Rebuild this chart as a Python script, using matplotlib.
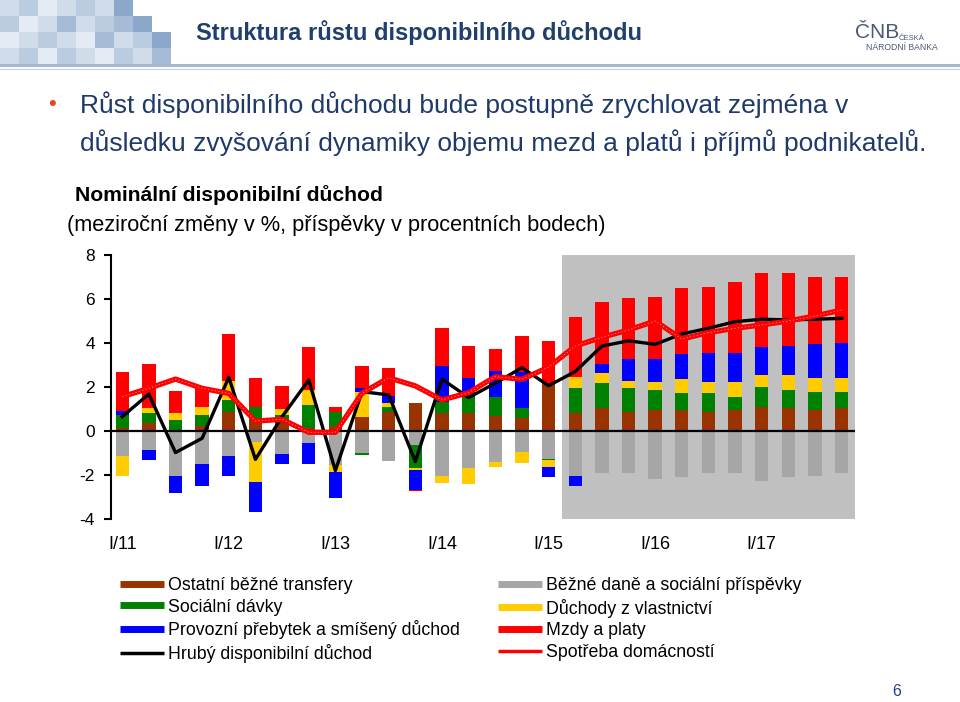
import numpy as np
import matplotlib
matplotlib.use("Agg")
import matplotlib.pyplot as plt
from matplotlib.lines import Line2D
from matplotlib.patches import Rectangle
from matplotlib import font_manager

plt.rcParams['font.family'] = ['Liberation Sans', 'DejaVu Sans']
plt.rcParams['axes.unicode_minus'] = False

installed = {f.name for f in font_manager.fontManager.ttflist}
NARROW = 'Liberation Sans Narrow' if 'Liberation Sans Narrow' in installed else 'Liberation Sans'

# quarterly data I/11 .. IV/17 (contributions in p.p.)
tick_labels = ['I/11', 'I/12', 'I/13', 'I/14', 'I/15', 'I/16', 'I/17']
ostatni = [0.12, 0.35, 0.05, 0.24, 0.88, 0.53, 0.42, 0.15, 0.24, 0.65, 0.88, 1.26, 0.80, 0.80,
           0.70, 0.58, 2.17, 0.80, 1.03, 0.88, 0.95, 0.95, 0.88, 0.95, 1.10, 1.03, 0.95, 1.03]
dane = [-1.12, -0.86, -2.05, -1.50, -1.12, -0.48, -1.05, -0.56, -1.55, -1.02, -1.35, -0.64, -2.05, -1.70,
        -1.39, -0.94, -1.27, -2.05, -1.92, -1.92, -2.18, -2.08, -1.92, -1.92, -2.26, -2.08, -2.03, -1.92]
socialni = [0.63, 0.45, 0.45, 0.47, 0.53, 0.58, 0.30, 1.03, 0.64, -0.08, 0.23, -1.06, 0.53, 0.76,
            0.86, 0.45, -0.06, 1.14, 1.14, 1.06, 0.91, 0.76, 0.83, 0.61, 0.91, 0.83, 0.83, 0.76]
vlastnictvi = [-0.92, 0.23, 0.33, 0.39, 0.88, -1.85, 0.30, 0.68, -0.30, 1.14, 0.15, -0.08, -0.30, -0.71,
               -0.26, -0.53, -0.29, 0.53, 0.45, 0.35, 0.38, 0.64, 0.53, 0.68, 0.53, 0.68, 0.61, 0.61]
provozni = [0.15, -0.48, -0.76, -1.00, -0.92, -1.33, -0.45, -0.94, -1.18, 0.15, 0.33, -0.88, 1.62, 0.86,
            1.17, 1.67, -0.48, -0.45, 0.41, 0.97, 1.02, 1.14, 1.32, 1.32, 1.26, 1.32, 1.56, 1.62]
mzdy = [1.77, 2.00, 1.00, 0.86, 2.12, 1.32, 1.02, 1.94, 0.23, 1.02, 1.29, -0.06, 1.71, 1.44,
        0.98, 1.62, 1.92, 2.70, 2.85, 2.77, 2.85, 3.00, 3.00, 3.23, 3.36, 3.30, 3.06, 3.00]
hruby = [0.65, 1.68, -0.98, -0.33, 2.44, -1.29, 0.65, 2.32, -1.80, 1.79, 1.64, -1.39, 2.36, 1.52,
         2.17, 2.88, 2.06, 2.70, 3.86, 4.10, 3.94, 4.41, 4.67, 4.97, 5.08, 5.05, 5.08, 5.12]
spotreba = [1.56, 1.94, 2.36, 1.94, 1.71, 0.45, 0.53, -0.06, -0.06, 1.72, 2.42, 2.05, 1.41, 1.74,
            2.47, 2.35, 2.90, 3.86, 4.26, 4.59, 5.00, 4.18, 4.47, 4.67, 4.82, 5.00, 5.23, 5.50]
forecast_start = 17

series = [
    ('Ostatní běžné transfery', ostatni, '#993300'),
    ('Běžné daně a sociální příspěvky', dane, '#A6A6A6'),
    ('Sociální dávky', socialni, '#008000'),
    ('Důchody z vlastnictví', vlastnictvi, '#FFCC00'),
    ('Provozní přebytek a smíšený důchod', provozni, '#0000FF'),
    ('Mzdy a platy', mzdy, '#FF0000'),
]

fig = plt.figure(figsize=(9.6, 7.02), dpi=100)

# slide decoration, drawn in pixel coordinates
deco = fig.add_axes([0, 0, 1, 1], zorder=0)
deco.set_xlim(0, 960)
deco.set_ylim(702, 0)
deco.axis('off')

shades = ['#FFFFFF', '#E4EBF4', '#D0DCEA', '#BCCCE0', '#A5BBD6', '#8BA7CA']
mosaic = [
    [2, 3, 1, 2, 3, 2, 5, 0, 0],
    [3, 1, 2, 4, 2, 3, 4, 5, 0],
    [1, 2, 3, 2, 1, 4, 2, 3, 5],
    [2, 3, 1, 3, 2, 1, 3, 2, 4],
]
for r, row in enumerate(mosaic):
    for c, s in enumerate(row):
        if s:
            deco.add_patch(Rectangle((c * 19, r * 16), 19, 16, color=shades[s], lw=0))
deco.plot([0, 960], [65, 65], color='#A8B8CC', lw=2.2)
deco.plot([0, 960], [69, 69], color='#CBD6E2', lw=1.0)

deco.text(196, 33, 'Struktura růstu disponibilního důchodu', family=NARROW, fontsize=17,
          fontweight='bold', color='#1F3F6F', va='center', ha='left')
deco.text(855, 33, 'ČNB', family=NARROW, fontsize=15, color='#4A5A75', va='center', ha='left')
deco.text(899, 38, 'ČESKÁ', family=NARROW, fontsize=5.5, color='#4A5A75', va='center', ha='left')
deco.text(866, 48, 'NÁRODNÍ BANKA', family=NARROW, fontsize=6.2, color='#4A5A75', va='center', ha='left')

deco.text(52, 104, '•', fontsize=16, color='#E8431A', va='center', ha='center')
deco.text(80, 105, 'Růst disponibilního důchodu bude postupně zrychlovat zejména v',
          family=NARROW, fontsize=19, color='#1F3A6A', va='center', ha='left')
deco.text(80, 143, 'důsledku zvyšování dynamiky objemu mezd a platů i příjmů podnikatelů.',
          family=NARROW, fontsize=19, color='#1F3A6A', va='center', ha='left')

deco.text(75, 195, 'Nominální disponibilní důchod', fontsize=15.2, fontweight='bold',
          color='black', va='center', ha='left')
deco.text(67, 225, '(meziroční změny v %, příspěvky v procentních bodech)', fontsize=15.7,
          color='black', va='center', ha='left')
deco.text(897, 692, '6', fontsize=11.5, color='#1F3F8F', va='center', ha='center')

# chart
ax = fig.add_axes([111 / 960, 1 - 519 / 702, (855 - 111) / 960, (519 - 255) / 702], zorder=1)
ax.patch.set_alpha(0)
x = np.arange(len(mzdy))

ax.axvspan(forecast_start - 0.5, len(mzdy) - 0.5, color='#C0C0C0', lw=0, zorder=0)

pos_bottom = np.zeros(len(x))
neg_bottom = np.zeros(len(x))
for name, vals, color in series:
    v = np.array(vals)
    bottom = np.where(v >= 0, pos_bottom, neg_bottom)
    ax.bar(x, v, bottom=bottom, width=0.5, color=color, lw=0, zorder=2)
    pos_bottom += np.where(v >= 0, v, 0)
    neg_bottom += np.where(v < 0, v, 0)

ax.axhline(0, color='black', lw=1.6, zorder=3)
ax.plot(x, hruby, color='black', lw=2.4, zorder=4)
ax.plot(x, spotreba, color='#FF0000', lw=3.8, zorder=5)
ax.plot(x, spotreba, color='white', lw=0.5, ls=(0, (2, 3)), alpha=0.6, zorder=6)

ax.set_xlim(-0.42, len(mzdy) - 0.5)
ax.set_ylim(-4, 8)
ax.set_yticks([-4, -2, 0, 2, 4, 6, 8])
ax.set_xticks(np.arange(0, len(mzdy), 4))
ax.set_xticklabels(tick_labels)
for s in ['top', 'right', 'bottom']:
    ax.spines[s].set_visible(False)
ax.spines['left'].set_linewidth(1.5)
ax.tick_params(axis='y', length=5, width=1.5, pad=6.5, labelsize=12.5)
ax.tick_params(axis='x', length=0, pad=12, labelsize=13)

# legends
def handle(color, lw):
    return Line2D([0], [0], color=color, lw=lw, solid_capstyle='butt')

left_h = [handle('#993300', 5), handle('#008000', 5), handle('#0000FF', 5), handle('black', 2.5)]
left_l = ['Ostatní běžné transfery', 'Sociální dávky', 'Provozní přebytek a smíšený důchod',
          'Hrubý disponibilní důchod']
right_h = [handle('#A6A6A6', 5), handle('#FFCC00', 5), handle('#FF0000', 5), handle('#FF0000', 2.5)]
right_l = ['Běžné daně a sociální příspěvky', 'Důchody z vlastnictví', 'Mzdy a platy',
           'Spotřeba domácností']
common = dict(loc='upper left', frameon=False, fontsize=12.8, handlelength=2.5,
              handletextpad=0.18, labelspacing=0.26, borderpad=0, borderaxespad=0,
              bbox_transform=fig.transFigure)
leg1 = ax.legend(left_h, left_l, bbox_to_anchor=(120 / 960, 1 - 577 / 702), **common)
ax.add_artist(leg1)
ax.legend(right_h, right_l, bbox_to_anchor=(498 / 960, 1 - 577 / 702), **common)

fig.savefig('out.png', dpi=100)
